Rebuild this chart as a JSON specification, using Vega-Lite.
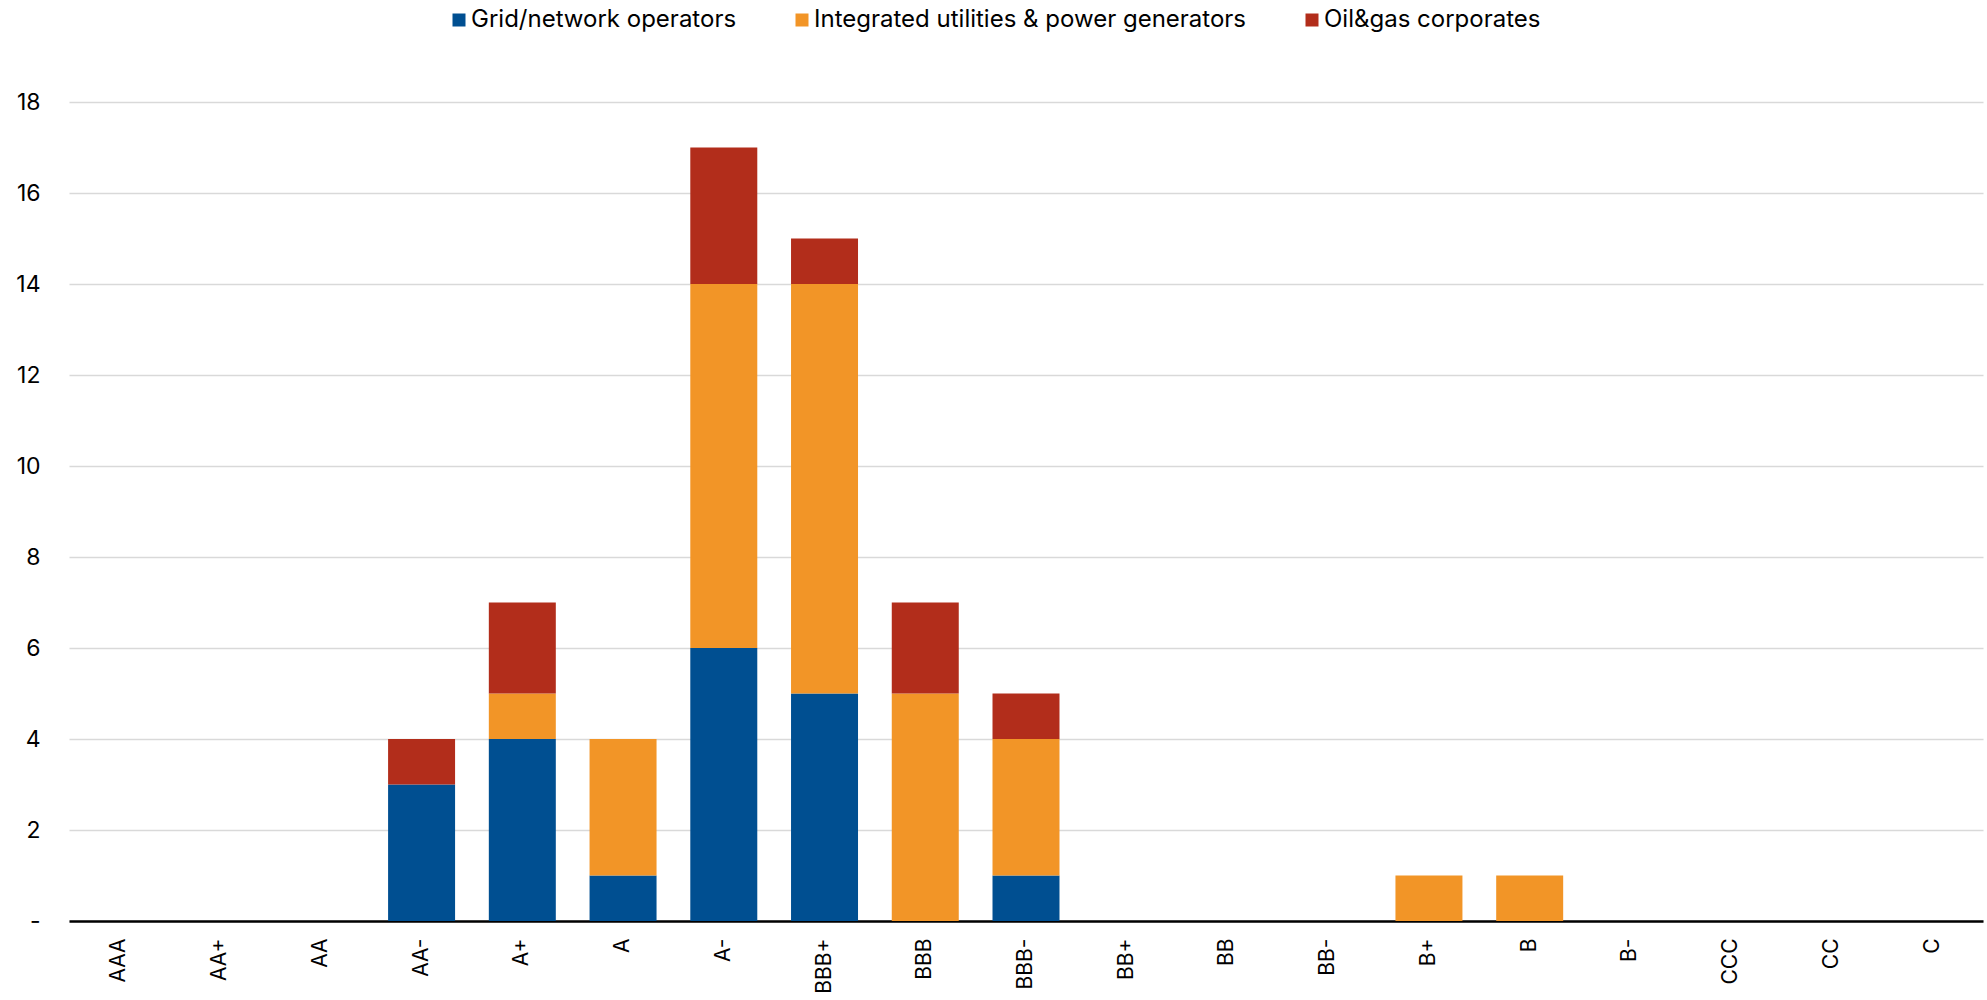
{
  "$schema": "https://vega.github.io/schema/vega-lite/v6.json",
  "autosize": {"type": "none"},
  "width": 1914,
  "height": 819,
  "padding": {"left": 69, "top": 102, "right": 4, "bottom": 79},
  "background": "white",
  "config": {
    "font": "Inter",
    "view": {"stroke": null}
  },
  "data": {
    "values": [
      {"rating": "AAA", "sector": "Grid/network operators", "value": 0},
      {"rating": "AA+", "sector": "Grid/network operators", "value": 0},
      {"rating": "AA", "sector": "Grid/network operators", "value": 0},
      {"rating": "AA-", "sector": "Grid/network operators", "value": 3},
      {"rating": "AA-", "sector": "Oil&gas corporates", "value": 1},
      {"rating": "A+", "sector": "Grid/network operators", "value": 4},
      {"rating": "A+", "sector": "Integrated utilities & power generators", "value": 1},
      {"rating": "A+", "sector": "Oil&gas corporates", "value": 2},
      {"rating": "A", "sector": "Grid/network operators", "value": 1},
      {"rating": "A", "sector": "Integrated utilities & power generators", "value": 3},
      {"rating": "A-", "sector": "Grid/network operators", "value": 6},
      {"rating": "A-", "sector": "Integrated utilities & power generators", "value": 8},
      {"rating": "A-", "sector": "Oil&gas corporates", "value": 3},
      {"rating": "BBB+", "sector": "Grid/network operators", "value": 5},
      {"rating": "BBB+", "sector": "Integrated utilities & power generators", "value": 9},
      {"rating": "BBB+", "sector": "Oil&gas corporates", "value": 1},
      {"rating": "BBB", "sector": "Integrated utilities & power generators", "value": 5},
      {"rating": "BBB", "sector": "Oil&gas corporates", "value": 2},
      {"rating": "BBB-", "sector": "Grid/network operators", "value": 1},
      {"rating": "BBB-", "sector": "Integrated utilities & power generators", "value": 3},
      {"rating": "BBB-", "sector": "Oil&gas corporates", "value": 1},
      {"rating": "BB+", "sector": "Grid/network operators", "value": 0},
      {"rating": "BB", "sector": "Grid/network operators", "value": 0},
      {"rating": "BB-", "sector": "Grid/network operators", "value": 0},
      {"rating": "B+", "sector": "Integrated utilities & power generators", "value": 1},
      {"rating": "B", "sector": "Integrated utilities & power generators", "value": 1},
      {"rating": "B-", "sector": "Grid/network operators", "value": 0},
      {"rating": "CCC", "sector": "Grid/network operators", "value": 0},
      {"rating": "CC", "sector": "Grid/network operators", "value": 0},
      {"rating": "C", "sector": "Grid/network operators", "value": 0}
    ]
  },
  "mark": {"type": "bar"},
  "encoding": {
    "x": {
      "field": "rating",
      "type": "nominal",
      "sort": ["AAA","AA+","AA","AA-","A+","A","A-","BBB+","BBB","BBB-","BB+","BB","BB-","B+","B","B-","CCC","CC","C"],
      "scale": {"paddingInner": 0.335, "paddingOuter": 0.1675},
      "axis": {
        "title": null,
        "labelAngle": -90,
        "labelAlign": "right",
        "labelBaseline": "middle",
        "labelFontSize": 21,
        "labelColor": "#000000",
        "labelPadding": 17,
        "ticks": false,
        "domainColor": "#000000",
        "domainWidth": 2.5,
        "grid": false
      }
    },
    "y": {
      "field": "value",
      "type": "quantitative",
      "aggregate": "sum",
      "stack": "zero",
      "scale": {"domain": [0, 18], "nice": false},
      "axis": {
        "title": null,
        "values": [0,2,4,6,8,10,12,14,16,18],
        "labelExpr": "datum.value == 0 ? '-' : datum.label",
        "labelFontSize": 23,
        "labelColor": "#000000",
        "labelPadding": 29,
        "ticks": false,
        "domain": false,
        "gridColor": "#d9d9d9",
        "gridWidth": 1.5
      }
    },
    "color": {
      "field": "sector",
      "type": "nominal",
      "scale": {
        "domain": ["Grid/network operators", "Integrated utilities & power generators", "Oil&gas corporates"],
        "range": ["#004F91", "#F29527", "#B22D1B"]
      },
      "legend": {
        "title": null,
        "orient": "none",
        "legendX": 378,
        "legendY": -94,
        "direction": "horizontal",
        "symbolType": "square",
        "symbolSize": 169,
        "symbolStrokeWidth": 0,
        "labelFontSize": 24,
        "labelLimit": 0,
        "labelColor": "#000000",
        "labelOffset": 0,
        "columnPadding": 53
      }
    },
    "order": {"field": "sector", "sort": "ascending"}
  }
}
